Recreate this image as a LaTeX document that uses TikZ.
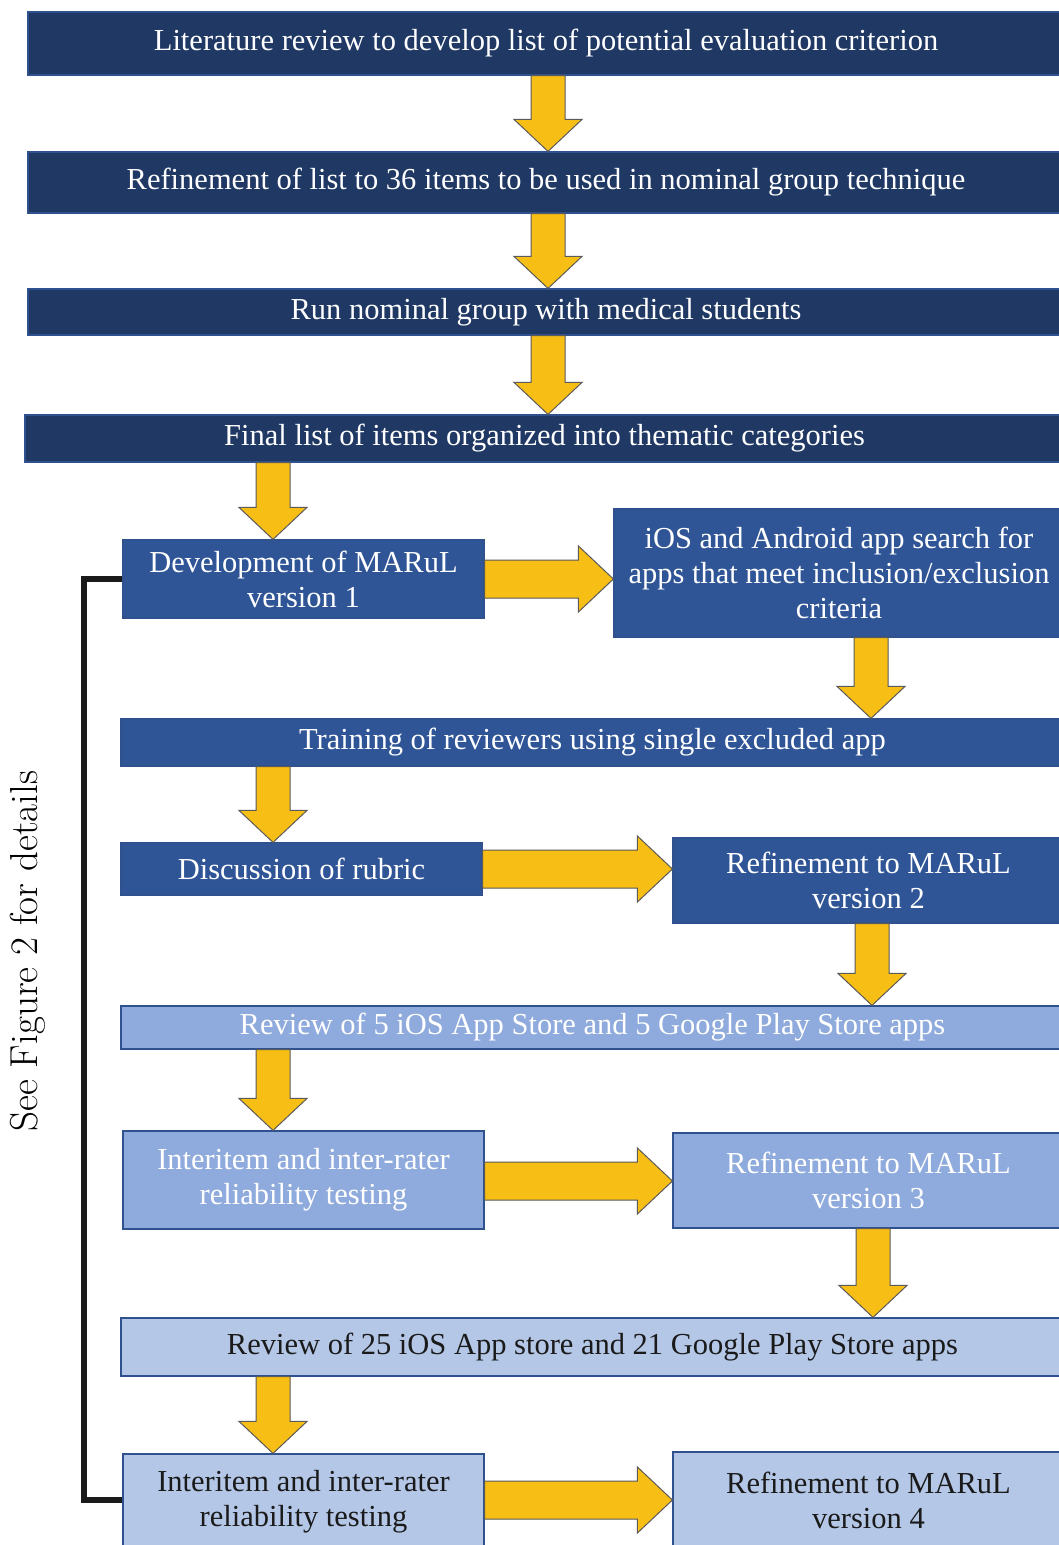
\documentclass[tikz,border=0pt]{standalone}
\usepackage{fontspec}
\newfontfamily\tnr{Liberation Serif}
\usetikzlibrary{calc}
\definecolor{navy}{HTML}{203864}
\definecolor{midblue}{HTML}{2F5597}
\definecolor{lightblue}{HTML}{8FAADC}
\definecolor{paleblue}{HTML}{B4C7E7}
\definecolor{edgeblue}{HTML}{2F528F}
\definecolor{gold}{HTML}{F7BE16}
\definecolor{goldedge}{HTML}{5A5A5A}
\definecolor{darktext}{HTML}{1A1A1A}
\tikzset{
  box/.style={draw=edgeblue, line width=1.2pt, inner sep=0pt, align=center,
    font=\tnr\fontsize{30.5}{35}\selectfont, anchor=center},
  navybox/.style={box, fill=navy, text=white},
  midbox/.style={box, fill=midblue, text=white},
  lightbox/.style={box, fill=lightblue, text=white},
  palebox/.style={box, fill=paleblue, text=darktext},
  fat/.style={fill=gold, draw=goldedge, line width=1pt, line join=miter},
  bracket/.style={draw=darktext, line width=6pt}
}
% #1 name, #2 left, #3 top, #4 right, #5 bottom, #6 style, #7 text
\newcommand\mkbox[7]{\node[#6, minimum width={(#4-#2)*1pt}, minimum height={(#5-#3)*1pt}] (#1) at ({(#2+#4)/2},{(#3+#5)/2}) {#7};}
% #1 x coordinate, #2 from node, #3 to node
\newcommand\fatdown[3]{\draw[fat] let \p1=(#2.south -| #1), \p2=(#3.north -| #1) in
  (\x1-17pt,\y1) -- (\x1+17pt,\y1) -- (\x1+17pt,\y2+32pt) -- (\x1+34pt,\y2+32pt) -- (\x1,\y2) -- (\x1-34pt,\y2+32pt) -- (\x1-17pt,\y2+32pt) -- cycle;}
% #1 y coordinate, #2 from node, #3 to node
\newcommand\fatright[3]{\draw[fat] let \p1=(#2.east |- #1), \p2=(#3.west |- #1) in
  (\x1,\y1+19pt) -- (\x2-35pt,\y1+19pt) -- (\x2-35pt,\y1+33pt) -- (\x2,\y1) -- (\x2-35pt,\y1-33pt) -- (\x2-35pt,\y1-19pt) -- (\x1,\y1-19pt) -- cycle;}
\begin{document}
\begin{tikzpicture}[x=1pt,y=-1pt]
\useasboundingbox[fill=white] (0,0) rectangle (1058,1545);
\mkbox{b1}{28}{12}{1064}{75}{navybox}{Literature review to develop list of potential evaluation criterion}
\mkbox{b2}{28}{152}{1064}{213}{navybox}{Refinement of list to 36 items to be used in nominal group technique}
\mkbox{b3}{28}{289}{1064}{335}{navybox}{Run nominal group with medical students}
\mkbox{b4}{25}{415}{1064}{462}{navybox}{Final list of items organized into thematic categories}
\mkbox{b5}{123}{540}{484}{618}{midbox}{Development of MARuL\\version 1}
\mkbox{b6}{614}{509}{1064}{637}{midbox}{iOS and Android app search for\\apps that meet inclusion/exclusion\\criteria}
\mkbox{b7}{121}{719}{1064}{766}{midbox}{Training of reviewers using single excluded app}
\mkbox{b8}{121}{843}{482}{895}{midbox}{Discussion of rubric}
\mkbox{b9}{673}{838}{1064}{923}{midbox}{Refinement to MARuL\\version 2}
\mkbox{b10}{121}{1006}{1064}{1049}{lightbox}{Review of 5 iOS App Store and 5 Google Play Store apps}
\mkbox{b11}{123}{1131}{484}{1229}{lightbox}{Interitem and inter-rater\\reliability testing}
\mkbox{b12}{673}{1133}{1064}{1228}{lightbox}{Refinement to MARuL\\version 3}
\mkbox{b13}{121}{1318}{1064}{1376}{palebox}{Review of 25 iOS App store and 21 Google Play Store apps}
\mkbox{b14}{123}{1454}{484}{1550}{palebox}{Interitem and inter-rater\\reliability testing}
\mkbox{b15}{673}{1452}{1064}{1548}{palebox}{Refinement to MARuL\\version 4}
\node[rotate=90, inner sep=0pt, font=\fontsize{39}{44}\selectfont, text=black] (see) at (28,951) {See Figure 2 for details};
\coordinate (xc) at (548,0);
\coordinate (xl) at (273,0);
\coordinate (xr1) at (871,0);
\coordinate (xr2) at (872,0);
\coordinate (xr3) at (873,0);
\coordinate (y1) at (0,579);
\coordinate (y2) at (0,869);
\coordinate (y3) at (0,1181);
\coordinate (y4) at (0,1500);
\coordinate (bx) at (84,0);
\fatdown{xc}{b1}{b2}
\fatdown{xc}{b2}{b3}
\fatdown{xc}{b3}{b4}
\fatdown{xl}{b4}{b5}
\fatdown{xr1}{b6}{b7}
\fatdown{xl}{b7}{b8}
\fatdown{xr2}{b9}{b10}
\fatdown{xl}{b10}{b11}
\fatdown{xr3}{b12}{b13}
\fatdown{xl}{b13}{b14}
\fatright{y1}{b5}{b6}
\fatright{y2}{b8}{b9}
\fatright{y3}{b11}{b12}
\fatright{y4}{b14}{b15}
\draw[bracket] (b5.west |- y1) -- (bx |- y1) -- (bx |- y4) -- (b14.west |- y4);
\end{tikzpicture}
\end{document}
